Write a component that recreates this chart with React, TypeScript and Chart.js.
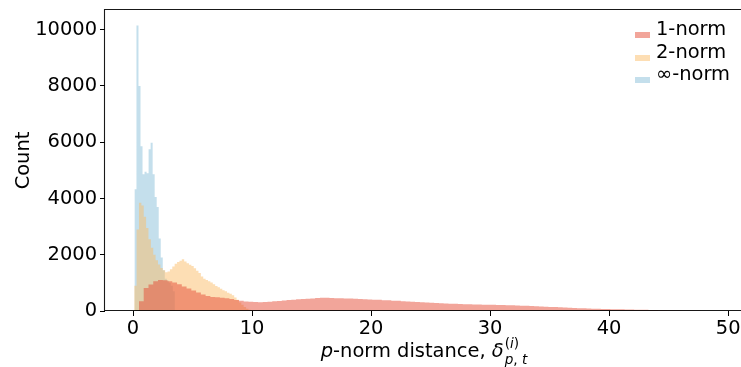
import React, { useEffect, useRef } from 'react';
import { Chart, registerables } from 'chart.js';

Chart.register(...registerables);

const FONT = '"DejaVu Sans", sans-serif';
const FS = 19.44;

// axis ticks
const X_TICKS = [0, 10, 20, 30, 40, 50];
const Y_TICKS = [0, 2000, 4000, 6000, 8000, 10000];
const X_MIN = -2.353;
const X_MAX = 51.08;
const Y_MAX = 10700;

// legend labels
const SERIES_LABELS = ['1-norm', '2-norm', '\u221e-norm'];

// 1-norm histogram: bins of width 0.4 starting at 0.5
const RED_START = 0.5;
const RED_WIDTH = 0.4;
const redCounts = [
  350, 820, 945, 1060, 1100, 1095, 1060, 1010, 950, 875,
  800, 730, 655, 585, 530, 500, 488, 470, 452, 425,
  390, 362, 342, 330, 318, 312, 322, 330, 348, 358,
  372, 390, 402, 414, 425, 432, 445, 458, 472, 468,
  462, 455, 452, 444, 440, 432, 426, 418, 410, 402,
  396, 386, 378, 368, 360, 350, 340, 330, 320, 310,
  300, 292, 282, 276, 268, 260, 254, 248, 242, 238,
  234, 230, 226, 222, 218, 214, 210, 205, 200, 195,
  190, 184, 176, 168, 160, 153, 146, 139, 131, 123,
  116, 109, 102, 96, 90, 84, 78, 74, 70, 66,
  62, 58, 55, 52, 48, 45, 41, 37, 33, 29,
  25, 22, 19, 16, 13, 10, 8, 6, 4, 3,
];

// 2-norm histogram: bins of width 0.2 starting at 0.1
const ORANGE_START = 0.1;
const ORANGE_WIDTH = 0.2;
const orangeCounts = [
  900, 2900, 3850, 3750, 3350, 2950, 2550, 2250, 2000, 1800,
  1650, 1530, 1450, 1380, 1400, 1480, 1580, 1680, 1740, 1790,
  1840, 1760, 1700, 1640, 1600, 1520, 1430, 1350, 1230, 1150,
  1100, 1060, 1010, 950, 890, 840, 790, 740, 700, 650,
  610, 560, 480, 400, 300, 220, 140, 80, 45, 25,
  12, 5,
];

// inf-norm histogram: bins of width 0.17 starting at 0.12
const BLUE_START = 0.12;
const BLUE_WIDTH = 0.17;
const blueCounts = [
  4330, 10150, 8000, 5860, 4860, 4950, 4900, 5750, 5980, 4860,
  4050, 3700, 2580, 1900, 1450, 1150, 1080, 1000, 900, 700,
];

const COLORS = [
  'rgba(230, 75, 53, 0.5)',
  'rgba(251, 189, 105, 0.5)',
  'rgba(137, 191, 217, 0.5)',
];

function toSteps(start: number, width: number, counts: number[]) {
  const pts = counts.map((c, i) => ({ x: start + i * width, y: c }));
  pts.push({ x: start + counts.length * width, y: 0 });
  return pts;
}

const decorPlugin = {
  id: 'decor',
  afterDraw(chart: any) {
    const { ctx, chartArea: a } = chart;
    ctx.save();
    // spines
    ctx.strokeStyle = 'rgba(0,0,0,0.9)';
    ctx.lineWidth = 1.1;
    ctx.beginPath();
    ctx.moveTo(a.left - 0.5, a.bottom);
    ctx.lineTo(a.left - 0.5, a.top - 0.5);
    ctx.lineTo(a.right + 2, a.top - 0.5);
    ctx.moveTo(a.left - 1, a.bottom - 0.5);
    ctx.lineTo(a.right + 2, a.bottom - 0.5);
    ctx.stroke();

    // legend
    const lx = 635;
    const rows = [30, 53, 75];
    SERIES_LABELS.forEach((lab, i) => {
      const cy = rows[i];
      ctx.fillStyle = COLORS[i];
      ctx.fillRect(lx, cy + 2, 15, 6);
      ctx.fillStyle = '#000';
      ctx.font = `${FS}px ${FONT}`;
      ctx.textAlign = 'left';
      ctx.textBaseline = 'middle';
      ctx.fillText(lab, lx + 21, cy);
    });

    // y title
    ctx.save();
    ctx.translate(29, (a.top + a.bottom) / 2);
    ctx.rotate(-Math.PI / 2);
    ctx.font = `${FS}px ${FONT}`;
    ctx.textAlign = 'center';
    ctx.textBaseline = 'alphabetic';
    ctx.fillStyle = '#000';
    ctx.fillText('Count', 0, 0);
    ctx.restore();

    // x title: p-norm distance, δ_{p,t}^{(i)}
    const base = 357;
    const SS = FS * 0.7;
    const reg = `${FS}px ${FONT}`;
    const ita = `italic ${FS}px ${FONT}`;
    const sreg = `${SS}px ${FONT}`;
    const sita = `italic ${SS}px ${FONT}`;
    const mainSegs = [
      { t: 'p', f: ita },
      { t: '-norm distance, ', f: reg },
      { t: '\u03b4', f: ita },
    ];
    const supSegs = [
      { t: '(', f: sreg },
      { t: 'i', f: sita },
      { t: ')', f: sreg },
    ];
    const subSegs = [
      { t: 'p', f: sita },
      { t: ',', f: sreg },
      { t: ' t', f: sita },
    ];
    const w = (segs: any[]) =>
      segs.reduce((s, g) => {
        ctx.font = g.f;
        return s + ctx.measureText(g.t).width;
      }, 0);
    const mainW = w(mainSegs);
    const scriptW = Math.max(w(supSegs), w(subSegs));
    const total = mainW + 1 + scriptW;
    let x = 424 - total / 2;
    ctx.textAlign = 'left';
    ctx.textBaseline = 'alphabetic';
    ctx.fillStyle = '#000';
    const drawSegs = (segs: any[], x0: number, y: number) => {
      let xx = x0;
      segs.forEach((g) => {
        ctx.font = g.f;
        ctx.fillText(g.t, xx, y);
        xx += ctx.measureText(g.t).width;
      });
    };
    drawSegs(mainSegs, x, base);
    x += mainW + 1;
    drawSegs(supSegs, x, base - 9);
    drawSegs(subSegs, x, base + 6.5);
    ctx.restore();
  },
};

export default function App() {
  const ref = useRef<HTMLCanvasElement>(null);
  useEffect(() => {
    if (!ref.current) return;
    const series = [
      toSteps(RED_START, RED_WIDTH, redCounts),
      toSteps(ORANGE_START, ORANGE_WIDTH, orangeCounts),
      toSteps(BLUE_START, BLUE_WIDTH, blueCounts),
    ];
    const chart = new Chart(ref.current, {
      type: 'line',
      data: {
        datasets: series.map((pts, i) => ({
          label: SERIES_LABELS[i],
          data: pts,
          stepped: 'before' as const,
          fill: 'origin',
          backgroundColor: COLORS[i],
          borderColor: 'rgba(0,0,0,0)',
          borderWidth: 0,
          pointRadius: 0,
          pointHoverRadius: 0,
        })),
      },
      options: {
        animation: false,
        responsive: false,
        devicePixelRatio: 1,
        layout: { padding: { top: 10, left: 0, right: 0, bottom: 0 } },
        plugins: {
          legend: { display: false },
          tooltip: { enabled: false },
          title: { display: false },
        },
        scales: {
          x: {
            type: 'linear',
            min: X_MIN,
            max: X_MAX,
            afterBuildTicks: (s: any) => {
              s.ticks = X_TICKS.map((v) => ({ value: v }));
            },
            afterFit: (s: any) => {
              s.height = 56;
              s.paddingLeft = 0;
              s.paddingRight = 0;
            },
            grid: {
              display: true,
              drawOnChartArea: false,
              drawTicks: true,
              tickLength: 5,
              color: '#000',
              lineWidth: 1,
            },
            border: { display: false },
            ticks: {
              color: '#000',
              font: { family: FONT, size: FS },
              padding: 1,
              maxRotation: 0,
              autoSkip: false,
            },
          },
          y: {
            type: 'linear',
            min: 0,
            max: Y_MAX,
            afterBuildTicks: (s: any) => {
              s.ticks = Y_TICKS.map((v) => ({ value: v }));
            },
            afterFit: (s: any) => {
              s.width = 105;
              s.paddingTop = 0;
              s.paddingBottom = 0;
            },
            grid: {
              display: true,
              drawOnChartArea: false,
              drawTicks: true,
              tickLength: 5,
              color: '#000',
              lineWidth: 1,
            },
            border: { display: false },
            ticks: {
              color: '#000',
              font: { family: FONT, size: FS },
              padding: 3,
              autoSkip: false,
              callback: (v: any) => String(v),
            },
          },
        },
      },
      plugins: [decorPlugin],
    });
    return () => chart.destroy();
  }, []);
  return (
    <div style={{ position: 'fixed', left: 0, top: 0, width: 741, height: 367, background: '#fff' }}>
      <canvas ref={ref} width={741} height={367} style={{ display: 'block' }} />
    </div>
  );
}
